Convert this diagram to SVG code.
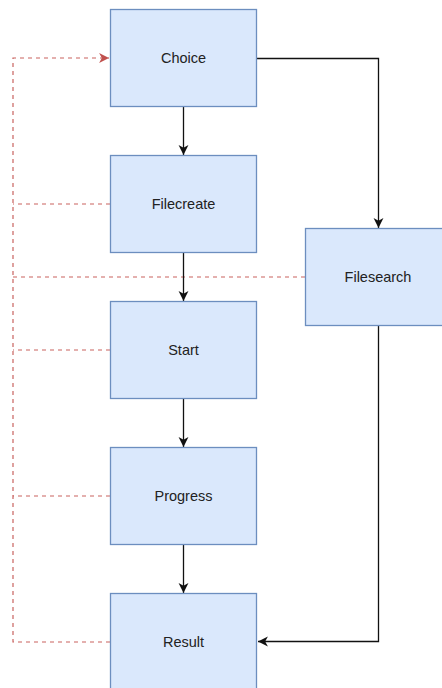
<svg xmlns="http://www.w3.org/2000/svg" width="442" height="688" viewBox="0 0 442 688">
<style>
.node rect{fill:#dae8fc;stroke:#6c8ebf;stroke-width:1.3}
.node text{font-family:"Liberation Sans",Arial,sans-serif;font-size:14.5px;fill:#222;text-anchor:middle;dominant-baseline:central}
.flow{fill:none;stroke:#111;stroke-width:1.3}
.back{fill:none;stroke:#c9635f;stroke-width:1.2;stroke-dasharray:4 4}
</style>
<defs>
<marker id="ab" viewBox="0 0 10 10" refX="9" refY="5" markerWidth="11" markerHeight="11" markerUnits="userSpaceOnUse" orient="auto">
<path d="M0,0.5 L9,5 L0,9.5 L2.5,5 Z" fill="#111"/>
</marker>
<marker id="ar" viewBox="0 0 10 10" refX="9" refY="5" markerWidth="11" markerHeight="11" markerUnits="userSpaceOnUse" orient="auto">
<path d="M0,0.5 L9,5 L0,9.5 L2.5,5 Z" fill="#c0504d"/>
</marker>
</defs>
<g id="connectors">
<path class="back" d="M110,204 H13"/>
<path class="back" d="M305,277 H13"/>
<path class="back" d="M110,350 H13"/>
<path class="back" d="M110,496 H13"/>
<path class="back" d="M110,642 H13 V58 H109" marker-end="url(#ar)"/>
<path class="flow" d="M183.5,106.5 V155" marker-end="url(#ab)"/>
<path class="flow" d="M183.5,252.5 V301" marker-end="url(#ab)"/>
<path class="flow" d="M183.5,398.5 V447" marker-end="url(#ab)"/>
<path class="flow" d="M183.5,544.5 V593" marker-end="url(#ab)"/>
<path class="flow" d="M256.5,58.5 H378.5 V228" marker-end="url(#ab)"/>
<path class="flow" d="M378.5,326 V641.5 H258" marker-end="url(#ab)"/>
</g>
<g id="choice" class="node"><rect x="110.5" y="9.5" width="146" height="97"/><text x="183.5" y="58">Choice</text></g>
<g id="filecreate" class="node"><rect x="110.5" y="155.5" width="146" height="97"/><text x="183.5" y="204">Filecreate</text></g>
<g id="start" class="node"><rect x="110.5" y="301.5" width="146" height="97"/><text x="183.5" y="350">Start</text></g>
<g id="progress" class="node"><rect x="110.5" y="447.5" width="146" height="97"/><text x="183.5" y="496">Progress</text></g>
<g id="result" class="node"><rect x="110.5" y="593.5" width="146" height="97"/><text x="183.5" y="642">Result</text></g>
<g id="filesearch" class="node"><rect x="305.5" y="228.5" width="146" height="97"/><text x="378" y="277">Filesearch</text></g>
</svg>
